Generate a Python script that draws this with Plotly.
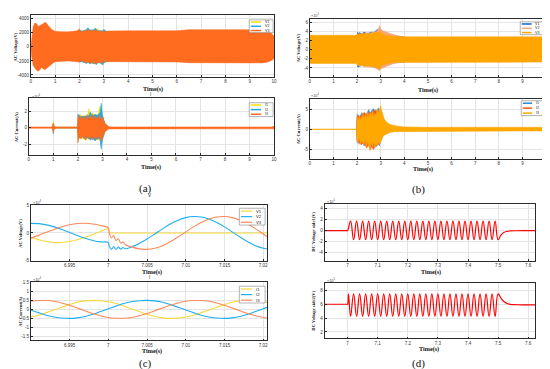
import plotly.graph_objects as go

# ---------------- DATA ----------------
# (a) AC voltage envelope (V), V3 dominant band
a_v_t = [0, 0.04, 0.1, 0.17, 0.24, 0.3, 0.37, 0.44, 0.51, 0.58, 0.65, 0.72, 0.8, 0.86, 0.93, 1.0, 1.2, 1.55, 1.9, 2.0,
         2.05, 2.15, 2.25, 2.35, 2.45, 2.55, 2.65, 2.75, 2.85, 2.95, 3.0, 3.05, 3.1, 3.3, 4.0, 5.0, 6.0, 6.5, 7.0, 8.0,
         9.0, 9.5, 9.7, 9.85, 9.95, 10.0]
a_v3_hi = [0, 1500, 2930, 3400, 3300, 2900, 3000, 3160, 3300, 3490, 3350, 3020, 2700, 2465, 2350, 2230, 2160, 2140, 2280, 2560,
           2140, 2250, 2350, 2420, 2300, 2380, 2330, 2250, 2200, 2180, 2350, 2000, 2250, 2280, 2280, 2280, 2300, 2450, 2460, 2465,
           2465, 2440, 2380, 2100, 1700, 1550]
a_v3_lo = [0, -1500, -2700, -3100, -3350, -3450, -3300, -2950, -3100, -3250, -3050, -2800, -2650, -2450, -2250, -2100, -2050, -2000, -2100, -2200,
           -1950, -2100, -2250, -2100, -2350, -2200, -2400, -2250, -2150, -2300, -2200, -1950, -2150, -2100, -2100, -2100, -2150, -2250, -2280, -2280,
           -2280, -2280, -2200, -2000, -1750, -1700]
a_vb_t = [2.0, 2.1, 2.2, 2.3, 2.35, 2.4, 2.5, 2.6, 2.65, 2.7, 2.75, 2.8, 2.9, 2.95, 3.0, 3.1]
a_v1_hi = [2450, 2200, 2300, 2400, 2350, 2450, 2350, 2400, 2300, 2350, 2600, 2300, 2250, 2200, 2400, 2200]
a_v1_lo = [-2100, -2050, -2200, -2300, -2150, -2300, -2250, -2350, -2450, -2300, -2200, -2200, -2450, -2350, -2250, -2100]
a_v2_hi = [2400, 2250, 2350, 2500, 2750, 2450, 2400, 2450, 2700, 2400, 2300, 2300, 2250, 2300, 2500, 2200]
a_v2_lo = [-2150, -2100, -2250, -2350, -2200, -2400, -2300, -2400, -2350, -2550, -2300, -2250, -2350, -2600, -2300, -2100]

# (a) AC current envelope (x1e4 A)
a_i_t = [0, 0.1, 0.13, 0.16, 0.19, 0.3, 0.95, 0.99, 1.01, 1.04, 1.08, 1.15, 1.98, 2.0, 2.04, 2.08, 2.12, 2.16, 2.2, 2.24,
         2.28, 2.32, 2.36, 2.4, 2.44, 2.48, 2.52, 2.56, 2.6, 2.64, 2.68, 2.72, 2.76, 2.8, 2.84, 2.88, 2.92, 2.96, 3.0, 3.05,
         3.1, 3.18, 3.26, 3.35, 5.0, 9.9, 9.95, 10.0]
a_i3_hi = [0.08, 0.08, 0.16, 0.08, 0.12, 0.08, 0.08, 0.55, 0.3, 0.15, 0.1, 0.08, 0.08, 1.5, 1.1, 1.3, 0.9, 1.4, 1.0, 1.2,
           1.45, 0.9, 1.2, 1.35, 1.0, 1.5, 1.1, 1.3, 1.6, 1.0, 1.25, 1.4, 0.95, 1.3, 1.1, 1.55, 1.2, 1.0, 1.3, 0.8,
           0.5, 0.3, 0.15, 0.09, 0.08, 0.08, 0.14, 0.14]
a_i3_lo = [-0.08, -0.08, -0.14, -0.08, -0.1, -0.08, -0.08, -0.6, -0.3, -0.15, -0.1, -0.08, -0.08, -1.85, -1.3, -1.0, -1.4, -1.2, -0.9, -1.3,
           -1.1, -1.5, -1.0, -1.2, -1.4, -1.0, -1.3, -1.1, -1.5, -1.2, -1.0, -1.35, -1.1, -1.45, -1.2, -1.0, -1.4, -1.6, -1.2, -0.8,
           -0.5, -0.3, -0.15, -0.09, -0.08, -0.08, -0.14, -0.14]
a_ib_t = [0.97, 1.0, 1.03, 1.98, 2.02, 2.1, 2.2, 2.3, 2.4, 2.45, 2.5, 2.6, 2.7, 2.8, 2.9, 2.95, 3.0, 3.1, 3.2]
a_i1_hi = [0.05, 0.75, 0.05, 0.05, 1.4, 1.6, 1.3, 1.5, 1.6, 2.3, 1.4, 1.8, 1.5, 1.4, 2.6, 2.2, 1.3, 0.6, 0.2]
a_i1_lo = [-0.05, -0.4, -0.05, -0.05, -1.2, -1.1, -1.3, -1.5, -1.3, -1.2, -1.1, -1.2, -1.3, -1.4, -1.5, -2.1, -1.4, -0.6, -0.2]
a_i2_hi = [0.05, 0.5, 0.05, 0.05, 1.65, 1.3, 1.4, 1.3, 1.5, 1.4, 1.9, 1.4, 1.6, 1.5, 1.8, 2.95, 1.6, 0.5, 0.2]
a_i2_lo = [-0.05, -0.75, -0.05, -0.05, -1.3, -1.2, -1.1, -1.4, -1.2, -1.3, -1.5, -1.3, -1.6, -1.3, -1.4, -2.6, -1.5, -0.5, -0.2]

# (b) AC voltage envelope (x1e5 V)
b_v_t = [0, 1.98, 2.0, 2.05, 2.1, 2.15, 2.2, 2.3, 2.4, 2.5, 2.6, 2.7, 2.8, 2.9, 2.95, 3.0, 3.1, 3.2, 3.4, 3.6, 3.8, 4.0, 5.0, 10.0]
b_v3_hi = [3.2, 3.2, 3.5, 3.3, 3.6, 3.4, 3.7, 3.5, 3.6, 3.4, 3.8, 3.6, 3.9, 3.7, 4.2, 3.8, 3.4, 3.2, 3.05, 2.95, 2.9, 2.88, 2.87, 2.87]
b_v3_lo = [-3.0, -3.0, -3.4, -3.3, -3.6, -3.3, -3.5, -3.4, -3.7, -3.5, -3.8, -3.6, -3.9, -4.1, -4.3, -3.7, -3.3, -3.1, -2.9, -2.8, -2.75, -2.72, -2.7, -2.7]
b_vb_t = [2.0, 2.05, 2.1, 2.2, 2.3, 2.4, 2.5, 2.6, 2.7, 2.8, 2.85, 2.9, 2.95, 3.0, 3.1, 3.3, 3.5, 3.8, 4.0]
b_v1_hi = [3.9, 3.6, 3.8, 3.5, 3.9, 3.6, 3.7, 3.9, 3.8, 4.3, 4.4, 4.5, 4.2, 3.6, 3.3, 3.1, 3.0, 2.9, 2.88]
b_v1_lo = [-3.6, -3.8, -3.7, -3.4, -3.6, -3.5, -3.4, -3.6, -3.7, -4.0, -4.1, -3.8, -3.9, -3.4, -3.2, -3.0, -2.85, -2.75, -2.72]
b_v2_hi = [3.4, 3.5, 3.3, 3.6, 3.5, 3.8, 3.6, 3.7, 3.9, 4.0, 4.2, 4.6, 5.35, 4.6, 4.2, 3.8, 3.4, 3.0, 2.88]
b_v2_lo = [-3.5, -3.4, -3.6, -3.5, -3.7, -3.6, -3.8, -3.7, -3.9, -4.0, -4.2, -4.4, -4.6, -4.2, -4.0, -3.5, -3.1, -2.8, -2.72]

# (b) AC current envelope (x1e4 A)
b_i_t = [0, 1.98, 2.0, 2.05, 2.1, 2.15, 2.2, 2.25, 2.3, 2.35, 2.4, 2.45, 2.5, 2.55, 2.6, 2.65, 2.7, 2.75, 2.8, 2.85,
         2.9, 2.95, 3.0, 3.03, 3.08, 3.15, 3.25, 3.4, 3.6, 3.8, 4.0, 5.0, 10.0]
b_i3_hi = [0.05, 0.05, 3.2, 2.0, 3.5, 2.4, 3.0, 4.0, 2.5, 3.8, 2.8, 4.5, 3.0, 4.2, 3.5, 4.8, 3.2, 4.0, 3.6, 5.0,
           4.2, 5.2, 6.0, 5.0, 3.8, 2.6, 1.8, 1.2, 0.9, 0.7, 0.6, 0.5, 0.5]
b_i3_lo = [-0.05, -0.05, -2.5, -3.4, -2.2, -3.8, -2.8, -3.2, -4.0, -2.6, -4.6, -3.0, -4.2, -5.2, -3.4, -4.5, -3.0, -4.8, -3.6, -4.2,
           -3.2, -3.8, -3.0, -2.6, -2.0, -1.5, -1.1, -0.8, -0.6, -0.5, -0.45, -0.42, -0.42]
b_ib_t = [1.98, 2.0, 2.05, 2.1, 2.2, 2.3, 2.4, 2.5, 2.55, 2.6, 2.7, 2.8, 2.9, 2.95, 3.0, 3.05, 3.1, 3.2, 3.3]
b_i1_hi = [0.05, 3.8, 3.0, 2.8, 4.2, 3.4, 3.9, 5.0, 3.5, 4.6, 5.2, 4.0, 5.4, 4.5, 3.0, 1.5, 1.0, 0.6, 0.4]
b_i1_lo = [-0.05, -2.8, -3.6, -3.2, -2.8, -4.2, -3.5, -3.8, -4.6, -3.9, -4.0, -4.5, -3.6, -4.2, -2.5, -1.5, -1.0, -0.6, -0.4]
b_i2_hi = [0.05, 2.8, 3.6, 3.2, 3.5, 4.3, 3.6, 4.2, 4.4, 4.0, 4.5, 4.9, 4.2, 3.6, 2.0, 1.2, 0.8, 0.5, 0.4]
b_i2_lo = [-0.05, -3.2, -2.6, -3.6, -3.9, -3.2, -4.8, -4.0, -5.3, -4.4, -5.1, -3.8, -3.9, -3.2, -3.2, -2.2, -1.5, -0.8, -0.4]

# (c) zoom around the fault (x1e4)
c_t_pre = [6.990, 6.991, 6.992, 6.993, 6.994, 6.995, 6.996, 6.997, 6.998, 6.999, 7.000]
c_v1_pre = [-0.79, -1.24, -1.56, -1.73, -1.73, -1.56, -1.24, -0.79, -0.27, 0.27, 0.79]
c_v2_pre = [1.73, 1.68, 1.46, 1.10, 0.62, 0.08, -0.46, -0.96, -1.36, -1.62, -1.70]
c_v3_pre = [-0.94, -0.44, 0.11, 0.64, 1.11, 1.48, 1.70, 1.75, 1.63, 1.35, 0.94]
c_t_v1_post = [7.0001, 7.0005, 7.0205]
c_v1_post = [0, 0, 0]
c_t_ring = [7.0001, 7.0004, 7.0007, 7.0010, 7.0013, 7.0016, 7.0019, 7.0022]
c_v2_ring = [-2.30, -2.97, -2.45, -2.98, -2.55, -2.96, -2.65, -2.86]
c_v3_ring = [0.12, -0.91, -0.48, -1.40, -1.05, -1.85, -1.63, -2.14]
c_t_post = [7.003, 7.004, 7.005, 7.006, 7.007, 7.008, 7.009, 7.010, 7.011, 7.012, 7.013, 7.014, 7.015, 7.016, 7.017,
            7.018, 7.019, 7.020, 7.0205]
c_v2_post = [-2.52, -1.90, -1.10, -0.19, 0.74, 1.60, 2.30, 2.77, 2.97, 2.89, 2.52, 1.90, 1.10, 0.19, -0.74, -1.60, -2.30, -2.77, -2.91]
c_v3_post = [-2.52, -2.89, -2.97, -2.77, -2.30, -1.60, -0.74, 0.19, 1.10, 1.90, 2.52, 2.89, 2.97, 2.77, 2.30, 1.60, 0.74, -0.19, -0.65]
c_t = [6.990, 6.991, 6.992, 6.993, 6.994, 6.995, 6.996, 6.997, 6.998, 6.999, 7.000, 7.001, 7.002, 7.003, 7.004, 7.005,
       7.006, 7.007, 7.008, 7.009, 7.010, 7.011, 7.012, 7.013, 7.014, 7.015, 7.016, 7.017, 7.018, 7.019, 7.020, 7.0205]
c_i1 = [-0.42, -0.32, -0.18, -0.03, 0.12, 0.27, 0.39, 0.47, 0.50, 0.48, 0.42, 0.32, 0.18, 0.03, -0.12, -0.27,
        -0.39, -0.47, -0.50, -0.48, -0.42, -0.32, -0.18, -0.03, 0.12, 0.27, 0.39, 0.47, 0.50, 0.48, 0.42, 0.375]
c_i2 = [-0.03, -0.18, -0.32, -0.42, -0.48, -0.50, -0.47, -0.39, -0.27, -0.12, 0.03, 0.18, 0.32, 0.42, 0.48, 0.50,
        0.47, 0.39, 0.27, 0.12, -0.03, -0.18, -0.32, -0.42, -0.48, -0.50, -0.47, -0.39, -0.27, -0.12, 0.03, 0.11]
c_i3 = [0.45, 0.49, 0.49, 0.45, 0.35, 0.23, 0.08, -0.08, -0.23, -0.35, -0.45, -0.49, -0.49, -0.45, -0.35, -0.23,
        -0.08, 0.08, 0.23, 0.35, 0.45, 0.49, 0.49, 0.45, 0.35, 0.23, 0.08, -0.08, -0.23, -0.35, -0.45, -0.48]

# (d) DC side voltages (x1e5 V)
d1_t = [6.924, 6.998, 7.000,
        7.01, 7.02, 7.03, 7.04, 7.05, 7.06, 7.07, 7.08, 7.09, 7.10, 7.11, 7.12, 7.13, 7.14, 7.15, 7.16, 7.17, 7.18, 7.19, 7.20,
        7.21, 7.22, 7.23, 7.24, 7.25, 7.26, 7.27, 7.28, 7.29, 7.30, 7.31, 7.32, 7.33, 7.34, 7.35, 7.36, 7.37, 7.38, 7.39, 7.40,
        7.41, 7.42, 7.43, 7.44, 7.45, 7.46, 7.47, 7.48, 7.49, 7.50,
        7.51, 7.52, 7.53, 7.54, 7.56, 7.60, 7.623]
d1_v = [0, 0, 0,
        1.72, -1.63, 1.72, -1.63, 1.72, -1.63, 1.72, -1.63, 1.72, -1.63, 1.72, -1.63, 1.72, -1.63, 1.72, -1.63, 1.72, -1.63, 1.72, -1.63,
        1.72, -1.63, 1.72, -1.63, 1.72, -1.63, 1.72, -1.63, 1.72, -1.63, 1.72, -1.63, 1.72, -1.63, 1.72, -1.63, 1.72, -1.63, 1.72, -1.63,
        1.72, -1.63, 1.72, -1.63, 1.72, -1.63, 1.72, -1.63, 1.72, -1.63,
        -0.75, -0.30, -0.12, -0.05, -0.01, 0, 0]
d2_t = [6.924, 6.998, 7.000, 7.003,
        7.01, 7.02, 7.03, 7.04, 7.05, 7.06, 7.07, 7.08, 7.09, 7.10, 7.11, 7.12, 7.13, 7.14, 7.15, 7.16, 7.17, 7.18, 7.19, 7.20,
        7.21, 7.22, 7.23, 7.24, 7.25, 7.26, 7.27, 7.28, 7.29, 7.30, 7.31, 7.32, 7.33, 7.34, 7.35, 7.36, 7.37, 7.38, 7.39, 7.40,
        7.41, 7.42, 7.43, 7.44, 7.45, 7.46, 7.47, 7.48, 7.49, 7.50,
        7.51, 7.52, 7.53, 7.54, 7.56, 7.60, 7.623]
d2_v = [6.0, 6.0, 6.0, 7.45,
        4.25, 7.5, 4.25, 7.5, 4.25, 7.5, 4.25, 7.5, 4.25, 7.5, 4.25, 7.5, 4.25, 7.5, 4.25, 7.5, 4.25, 7.5, 4.25, 7.5,
        4.25, 7.5, 4.25, 7.5, 4.25, 7.5, 4.25, 7.5, 4.25, 7.5, 4.25, 7.5, 4.25, 7.5, 4.25, 7.5, 4.25, 7.5, 4.25, 7.5,
        4.25, 7.5, 4.25, 7.5, 4.25, 7.5, 4.25, 7.5, 4.25, 7.5,
        6.85, 6.35, 6.10, 5.98, 5.93, 5.92, 5.92]

# tick values / labels
ab_xticks = [0, 1, 2, 3, 4, 5, 6, 7, 8, 9, 10]
c_xticks = [6.995, 7.0, 7.005, 7.01, 7.015, 7.02]
c_xlabels = ['6.995', '7', '7.005', '7.01', '7.015', '7.02']
d_xticks = [7.0, 7.1, 7.2, 7.3, 7.4, 7.5, 7.6]
d_xlabels = ['7', '7.1', '7.2', '7.3', '7.4', '7.5', '7.6']
a_v_yticks = [-4000, -2000, 0, 2000, 4000]
a_i_yticks = [-2, 0, 2]
b_v_yticks = [-4, -2, 0, 2, 4, 6]
b_i_yticks = [-5, 0, 5]
c_v_yticks = [-5, 0, 5]
c_i_yticks = [-1.5, -1, -0.5, 0, 0.5, 1, 1.5]
c_i_ylabels = ['-1.5', '-1', '-0.5', '0', '0.5', '1', '1.5']
d1_yticks = [-4, -2, 0, 2, 4]
d2_yticks = [2, 4, 6, 8]

# ---------------- FIGURE ----------------
W, H = 550, 369
fig = go.Figure()

def px(x):
    return x / W

def py(y):
    return 1 - y / H

def axn(i):
    return ('x', 'y') if i == 1 else ('x%d' % i, 'y%d' % i)

def band(i, t, hi, lo, color):
    xa, ya = axn(i)
    fig.add_trace(go.Scatter(x=list(t) + list(t)[::-1], y=list(hi) + list(lo)[::-1],
                             fill='toself', fillcolor=color, mode='lines',
                             line=dict(color=color, width=0.5),
                             xaxis=xa, yaxis=ya, hoverinfo='skip', showlegend=False))

def line(i, t, v, color, width=1.1, smoothing=0.8):
    xa, ya = axn(i)
    fig.add_trace(go.Scatter(x=t, y=v, mode='lines',
                             line=dict(color=color, width=width, shape='spline', smoothing=smoothing),
                             xaxis=xa, yaxis=ya, hoverinfo='skip', showlegend=False))

A_COL = ['#F2E205', '#29A8E0', '#FF6B1F']
BV_COL = ['#1565C0', '#F7A77E', '#FFA500']
BI_COL = ['#2A8AD4', '#FF5A1F', '#FFA800']
C_COL = ['#F7D83A', '#1EAEF0', '#FA8A5A']
D_COL = '#FF0000'

# (a) voltage
band(1, a_vb_t, a_v1_hi, a_v1_lo, A_COL[0])
band(1, a_vb_t, a_v2_hi, a_v2_lo, A_COL[1])
band(1, a_v_t, a_v3_hi, a_v3_lo, A_COL[2])
# (a) current
band(2, a_ib_t, a_i1_hi, a_i1_lo, A_COL[0])
band(2, a_ib_t, a_i2_hi, a_i2_lo, A_COL[1])
band(2, a_i_t, a_i3_hi, a_i3_lo, A_COL[2])
# (b) voltage
band(3, b_vb_t, b_v1_hi, b_v1_lo, BV_COL[0])
band(3, b_vb_t, b_v2_hi, b_v2_lo, BV_COL[1])
band(3, b_v_t, b_v3_hi, b_v3_lo, BV_COL[2])
# (b) current
band(4, b_ib_t, b_i1_hi, b_i1_lo, BI_COL[0])
band(4, b_ib_t, b_i2_hi, b_i2_lo, BI_COL[1])
band(4, b_i_t, b_i3_hi, b_i3_lo, BI_COL[2])
# (c) voltage
line(5, c_t_pre + c_t_v1_post, c_v1_pre + c_v1_post, C_COL[0])
line(5, c_t_pre + c_t_ring + c_t_post, c_v2_pre + c_v2_ring + c_v2_post, C_COL[1])
line(5, c_t_pre + c_t_ring + c_t_post, c_v3_pre + c_v3_ring + c_v3_post, C_COL[2])
# (c) current
line(6, c_t, c_i1, C_COL[0])
line(6, c_t, c_i2, C_COL[1])
line(6, c_t, c_i3, C_COL[2])
# (d)
line(7, d1_t, d1_v, D_COL, width=1.2, smoothing=1.3)
line(8, d2_t, d2_v, D_COL, width=1.2, smoothing=1.3)

# axes: (x0, x1, y0, y1) in pixels
panels = {
    1: ((22, 267, 5, 68), [0, 10], [-4300, 4550], ab_xticks, None, a_v_yticks, None),
    2: ((20, 267, 89, 147), [0, 10], [-3.3, 3.6], ab_xticks, None, a_i_yticks, None),
    3: ((303, 541, 9, 68), [0, 10], [-6, 6.8], ab_xticks, None, b_v_yticks, None),
    4: ((303, 541, 90, 151), [0, 10], [-7.5, 7.7], ab_xticks, None, b_i_yticks, None),
    5: ((22, 260, 198, 254), [6.990, 7.0205], [-5, 5], c_xticks, c_xlabels, c_v_yticks, None),
    6: ((22, 260, 276, 335), [6.990, 7.0205], [-1.72, 1.5], c_xticks, c_xlabels, c_i_yticks, c_i_ylabels),
    7: ((318, 530, 197, 254), [6.924, 7.623], [-5.4, 4.76], d_xticks, d_xlabels, d1_yticks, None),
    8: ((318, 530, 277, 333), [6.924, 7.623], [1.06, 9.03], d_xticks, d_xlabels, d2_yticks, None),
}

common = dict(showline=True, mirror=True, linecolor='#2b2b2b', linewidth=0.8, showgrid=True,
              gridcolor='#e4e4e4', gridwidth=0.5, zeroline=False, ticks='inside', ticklen=2,
              tickwidth=0.5, tickcolor='#2b2b2b', fixedrange=True,
              tickfont=dict(size=4.5, color='#333333', family='Liberation Sans'))

lay = {}
for i, (box, xr, yr, xt, xl, yt, yl) in panels.items():
    x0, x1, y0, y1 = box
    xa, ya = axn(i)
    xkey = 'xaxis' if i == 1 else 'xaxis%d' % i
    ykey = 'yaxis' if i == 1 else 'yaxis%d' % i
    xl = xl if xl is not None else [str(v) for v in xt]
    yl = yl if yl is not None else [str(v) for v in yt]
    lay[xkey] = dict(domain=[px(x0), px(x1)], range=xr, anchor=ya, tickvals=xt, ticktext=xl, **common)
    lay[ykey] = dict(domain=[py(y1), py(y0)], range=yr, anchor=xa, tickvals=yt, ticktext=yl, **common)
fig.update_layout(**lay)

annotations = []
shapes = []

def ann(text, x, y, size, bold=False, angle=0, xanchor='center', family='Liberation Serif', color='#111'):
    t = '<b>%s</b>' % text if bold else text
    annotations.append(dict(text=t, x=px(x), y=py(y), xref='paper', yref='paper', showarrow=False,
                            textangle=angle, xanchor=xanchor, yanchor='middle',
                            font=dict(size=size, family=family, color=color)))

# y-axis titles
for (txt, x, y) in [('AC Voltage(V)', 7, 37), ('AC Current(A)', 7, 118), ('AC Voltage(V)', 292, 38),
                    ('AC Current(A)', 291, 120), ('AC Voltage(V)', 12, 226), ('AC Current(A)', 12, 305),
                    ('DC Voltage side1(V)', 307, 225), ('DC Voltage side2(V)', 307, 305)]:
    ann(txt, x, y, 4.6, bold=True, angle=-90)
# x-axis titles
for (x, y) in [(145, 80), (143, 159.5), (422, 81), (417, 161.5), (144, 266), (144, 346), (425, 266), (423, 344)]:
    ann('Time(s)', x, y, 6.2, bold=True)
# exponents
for (txt, x, y) in [('×10<sup>4</sup>', 21, 87), ('×10<sup>5</sup>', 302, 5), ('×10<sup>4</sup>', 302, 86),
                    ('×10<sup>4</sup>', 22, 195), ('×10<sup>4</sup>', 22, 273), ('×10<sup>5</sup>', 318, 194),
                    ('×10<sup>5</sup>', 318, 274)]:
    ann(txt, x, y, 3.8, xanchor='left', family='Liberation Sans', color='#444')
# small titles
ann('I', 143, 86, 4.5, family='Liberation Sans')
ann('V', 142, 188, 4.5, family='Liberation Sans')
ann('I', 142, 271, 4.5, family='Liberation Sans')
# panel labels
for (txt, x, y) in [('(a)', 137, 181), ('(b)', 412, 182), ('(c)', 137, 358), ('(d)', 412, 358)]:
    ann(txt, x, y, 11)

def legend_box(x0, y0, x1, y1, labels, colors, fs=3.6, lw=1.5):
    shapes.append(dict(type='rect', xref='paper', yref='paper', x0=px(x0), x1=px(x1), y0=py(y1), y1=py(y0),
                       fillcolor='white', line=dict(color='#666', width=0.5)))
    n = len(labels)
    for k, (lab, col) in enumerate(zip(labels, colors)):
        yc = y0 + (k + 0.5) * (y1 - y0) / n
        shapes.append(dict(type='line', xref='paper', yref='paper', x0=px(x0 + 1.5), x1=px(x0 + 0.5 * (x1 - x0)),
                           y0=py(yc), y1=py(yc), line=dict(color=col, width=lw)))
        ann(lab, x0 + 0.58 * (x1 - x0), yc, fs, xanchor='left', family='Liberation Sans', color='#222')

legend_box(242, 10, 266, 23, ['V1', 'V2', 'V3'], A_COL)
legend_box(242, 94, 266, 108, ['I1', 'I2', 'I3'], A_COL)
legend_box(515, 12, 538, 25, ['V1', 'V2', 'V3'], BV_COL)
legend_box(516, 92, 538, 107, ['I1', 'I2', 'I3'], BI_COL)
legend_box(232, 201, 258, 218, ['V1', 'V2', 'V3'], C_COL, fs=4.2, lw=1.2)
legend_box(232, 280, 258, 297, ['I1', 'I2', 'I3'], C_COL, fs=4.2, lw=1.2)

fig.update_layout(width=W, height=H, margin=dict(l=0, r=0, t=0, b=0), paper_bgcolor='white',
                  plot_bgcolor='white', showlegend=False, annotations=annotations, shapes=shapes)

fig.write_html('out.html')
